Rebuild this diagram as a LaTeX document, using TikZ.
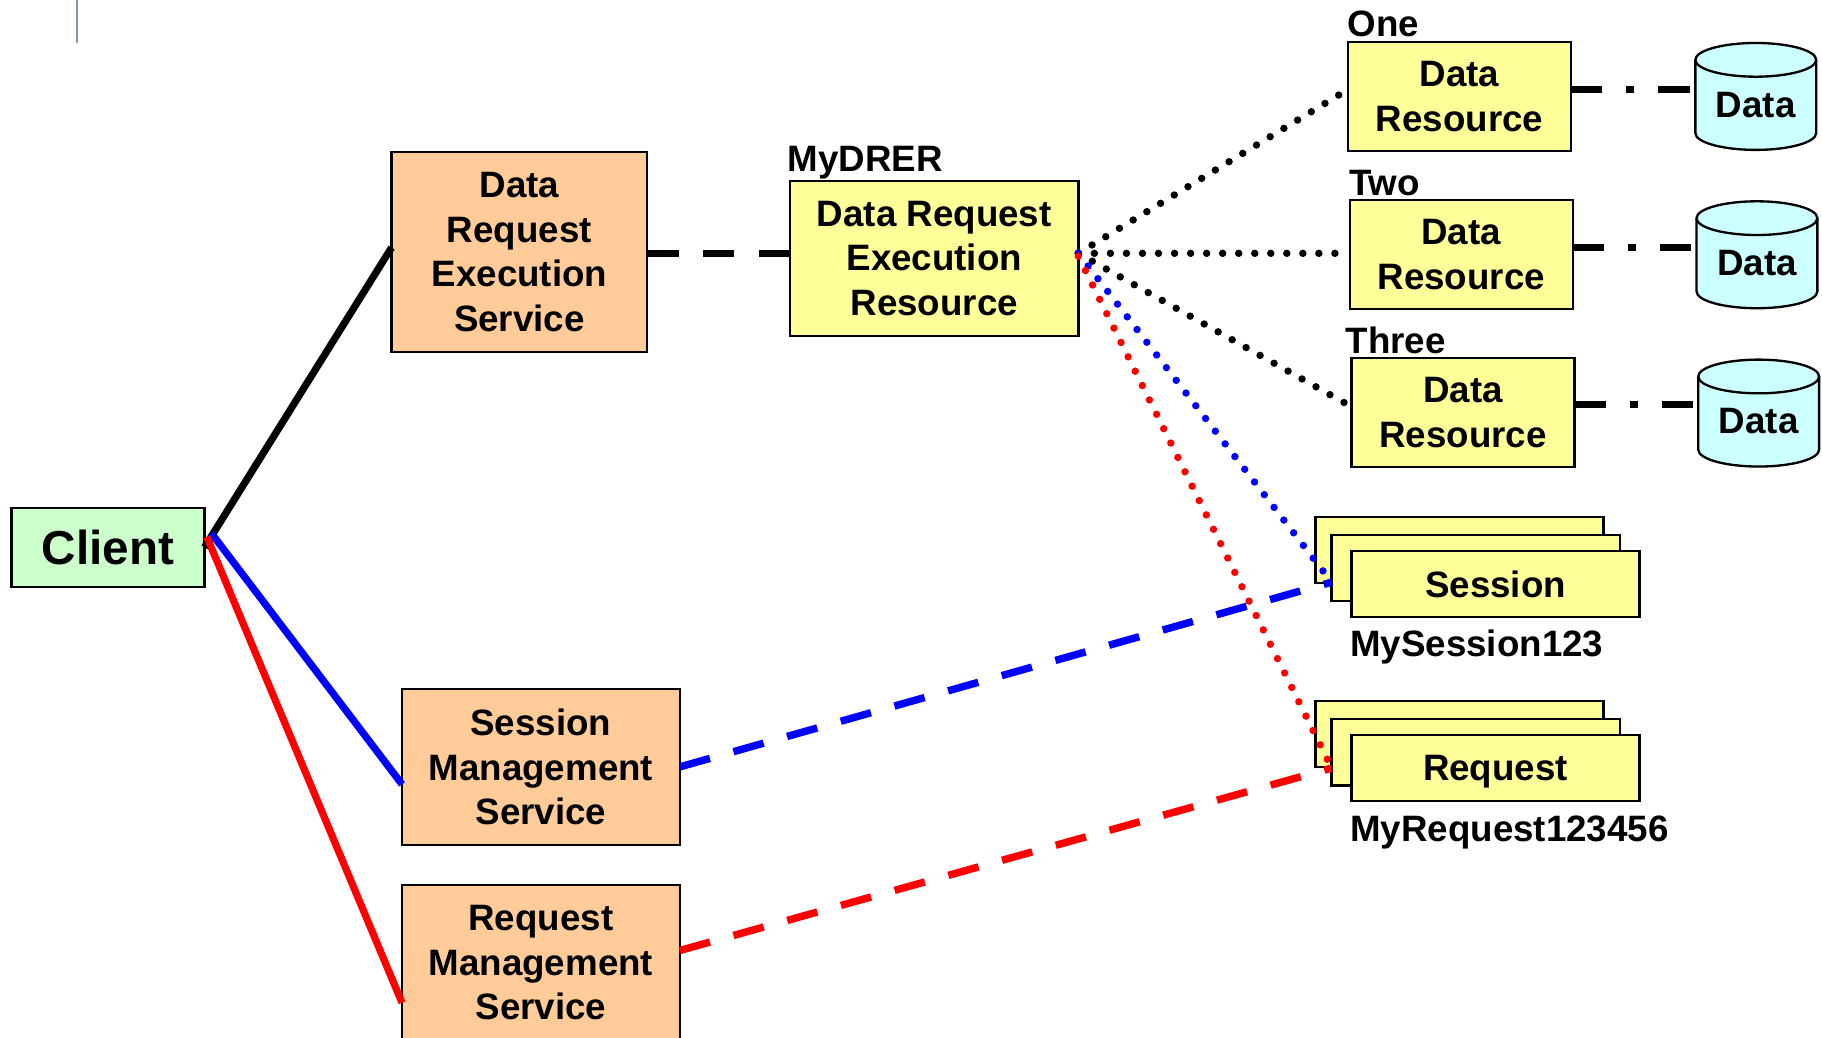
\documentclass[tikz,border=0pt]{standalone}
\usepackage{fontspec}
\setmainfont{Liberation Sans}
\usetikzlibrary{calc,backgrounds}
\definecolor{peach}{HTML}{FFCC99}
\definecolor{lyellow}{HTML}{FFFF99}
\definecolor{lgreen}{HTML}{CCFFCC}
\definecolor{lcyan}{HTML}{CCFFFF}
\definecolor{grayblue}{HTML}{8094B0}
\newcommand\dfont{\bfseries\fontsize{15.8pt}{19.25pt}\selectfont}
\newcommand\cylpath[1]{%
  \path[fill=lcyan,draw=black,line width=1pt] (#1.north west) -- ([yshift=7.25pt]#1.south west)
    arc[start angle=180,end angle=360,x radius=26pt,y radius=7.25pt]
    -- (#1.north east)
    arc[start angle=0,end angle=180,x radius=26pt,y radius=7.25pt] -- cycle;
  \draw[line width=1pt] (#1.north west) arc[start angle=180,end angle=360,x radius=26pt,y radius=7.25pt];}
\tikzset{
  box/.style={draw=black,line width=1pt,inner sep=0pt,outer sep=0pt,align=center,font=\dfont},
  svc/.style={box,fill=peach},
  res/.style={box,fill=lyellow},
  drbox/.style={res,minimum width=96pt,minimum height=47pt},
  stk/.style={res,minimum width=124pt,minimum height=28.5pt},
  cyl/.style={inner sep=0pt,outer sep=0pt,minimum width=52pt,minimum height=38.75pt,font=\dfont},
  lbl/.style={inner sep=0pt,outer sep=0pt,anchor=base west,font=\dfont},
  conn/.style={line width=3.1pt},
  dotline/.style={line width=3.2pt,line cap=round,dash pattern=on 0pt off 6.9pt},
  dashline/.style={line width=3.2pt,dash pattern=on 13.5pt off 10.5pt},
  dashdotline/.style={line width=3.2pt,dash pattern=on 13.5pt off 10.25pt on 3.5pt off 10.25pt},
}
\begin{document}
\begin{tikzpicture}[x=0.5pt,y=-0.5pt]
\useasboundingbox (0,0) rectangle (1568,893);
\draw[line width=1pt,grayblue] (66,0) -- (66,37);

% services
\node[box,fill=lgreen,minimum width=83pt,minimum height=34pt,font=\bfseries\fontsize{20.5pt}{24pt}\selectfont] (client) at (93,471) {Client};
\node[svc,minimum width=110pt,minimum height=86pt] (dres) at (447,217) {Data\\Request\\Execution\\Service};
\node[svc,minimum width=119.5pt,minimum height=67pt] (sms) at (465.5,660) {Session\\Management\\Service};
\node[svc,minimum width=119.5pt,minimum height=67pt] (rms) at (465.5,828.5) {Request\\Management\\Service};

% resources
\node[res,minimum width=124pt,minimum height=66.5pt] (drer) at (804,222.5) {Data Request\\Execution\\Resource};
\node[lbl] (lmydrer) at (678,148) {MyDRER};

\node[drbox] (dr1) at (1256,83) {Data\\Resource};
\node[lbl] (lone) at (1160,31.5) {One};
\node[drbox] (dr2) at (1257.5,219) {Data\\Resource};
\node[lbl] (ltwo) at (1161,168) {Two};
\node[drbox] (dr3) at (1259,355) {Data\\Resource};
\node[lbl] (lthree) at (1158,304) {Three};

\node[cyl] (db1) at (1511,90.25) {Data};
\node[cyl] (db2) at (1512,226.5) {Data};
\node[cyl] (db3) at (1513.5,362.75) {Data};
\begin{pgfonlayer}{background}
\fill[white] (0,0) rectangle (1568,893);
\cylpath{db1}
\cylpath{db2}
\cylpath{db3}
\end{pgfonlayer}

\node[stk] (sessb) at (1256,473.5) {};
\node[stk] (sessm) at (1270,489) {};
\node[stk] (sess) at (1287,502.5) {Session};
\node[lbl] (lsess) at (1162,565) {MySession123};

\node[stk] (reqb) at (1256,631.5) {};
\node[stk] (reqm) at (1270,647.5) {};
\node[stk,text depth=0pt] (req) at (1287,661) {Request};
\node[lbl] (lreq) at (1162,724) {MyRequest123456};

% coordinates
\coordinate (fan) at ([yshift=2.25pt]drer.east);
\coordinate (fanr) at ([yshift=1pt]drer.east);
\coordinate (sessin) at ([yshift=-6pt]sessm.west);
\coordinate (reqin) at ([yshift=-6.75pt]reqm.west);

% client connectors
\draw[conn] (client.east) -- ([yshift=2pt]dres.west);
\draw[conn,blue] ([xshift=3pt,yshift=6pt]client.east) -- ([yshift=-7.5pt]sms.west);
\draw[conn,red] ([xshift=1pt,yshift=4.5pt]client.east) -- ([yshift=-17.25pt]rms.west);

% dashed
\draw[dashline] ([yshift=-0.5pt]dres.east) -- ([yshift=-0.5pt]dres.east -| drer.west);
\draw[dashline,blue] (sms.east) -- (sessin);
\draw[dashline,red] ([yshift=5.25pt]rms.east) -- (reqin);

% dash-dot
\draw[dashdotline] ([yshift=3pt]dr1.east) -- ([yshift=3pt]dr1.east -| db1.west);
\draw[dashdotline] ([yshift=3pt]dr2.east) -- ([yshift=3pt]dr2.east -| db2.west);
\draw[dashdotline] ([yshift=3.5pt]dr3.east) -- ([yshift=3.5pt]dr3.east -| db3.west);

% dotted
\draw[dotline] (fan) -- ([yshift=3pt]dr1.west);
\draw[dotline] (fan) -- (fan -| dr2.west);
\draw[dotline] (fan) -- ([yshift=2.5pt]dr3.west);
\draw[dotline,blue] (fan) -- (sessin);
\draw[dotline,red] (fanr) -- (reqin);
\end{tikzpicture}
\end{document}
